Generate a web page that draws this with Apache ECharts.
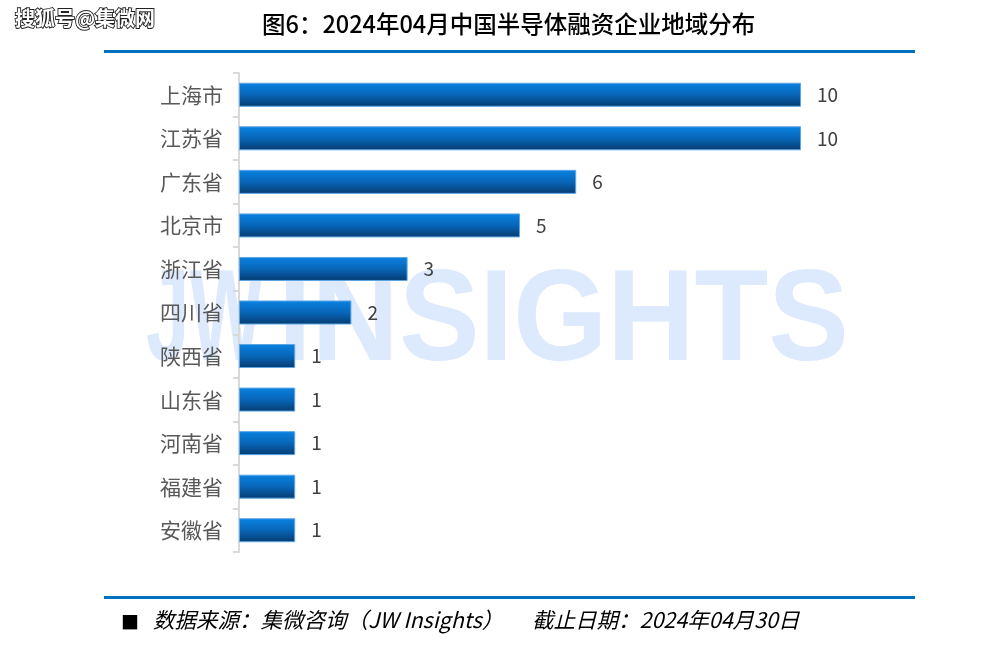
<!DOCTYPE html>
<html><head><meta charset="utf-8">
<script src="https://cdn.jsdelivr.net/npm/echarts@6/dist/echarts.min.js"></script>
<style>html,body{margin:0;padding:0;background:#fff}#c{width:1000px;height:645px}</style>
</head><body><div id="c"></div>
<script>
const categories = ['上海市','江苏省','广东省','北京市','浙江省','四川省','陕西省','山东省','河南省','福建省','安徽省'];
const values = [10,10,6,5,3,2,1,1,1,1,1];
const titleText = '图6：2024年04月中国半导体融资企业地域分布';
const sourceText = '数据来源：集微咨询（JW Insights）';
const dateText = '截止日期：2024年04月30日';
const watermarkText = '搜狐号@集微网';

const CJK = '"Noto Sans CJK SC","Noto Sans",sans-serif';
const WM = 'bold 130px "Liberation Sans",Arial,sans-serif';
const chart = echarts.init(document.getElementById('c'));
chart.setOption({
  backgroundColor:'#fff',
  animation:false,
  graphic:[
    {type:'text', z:-10, x:146, y:389, scaleX:0.6, style:{text:'JW', fill:'#dde9fc', font:WM, verticalAlign:'bottom'}},
    {type:'text', z:-10, x:278, y:389, scaleX:0.93, style:{text:'INSIGHTS', fill:'#dde9fc', font:WM, verticalAlign:'bottom'}},
    {type:'text', left:14, top:8, style:{text:watermarkText, fill:'#fff', stroke:'#222', lineWidth:1.8, font:'bold 20px '+CJK}},
    {type:'text', left:262, top:12, style:{text:titleText, fill:'#000', font:'500 23.5px '+CJK}},
    {type:'rect', shape:{x:104,y:50,width:811,height:3}, style:{fill:'#0070c0'}},
    {type:'rect', shape:{x:104,y:596,width:811,height:3}, style:{fill:'#0070c0'}},
    {type:'text', left:121, top:613, style:{text:'■', fill:'#000', font:'18px '+CJK}},
    {type:'text', left:153, top:609, style:{text:sourceText, fill:'#000', font:'italic 21.5px '+CJK}},
    {type:'text', left:532, top:609, style:{text:dateText, fill:'#000', font:'italic 21.5px '+CJK}}
  ],
  grid:{left:239, right:199, top:73, bottom:93, containLabel:false},
  xAxis:{type:'value', min:0, max:10, show:false},
  yAxis:{type:'category', data:categories, inverse:true,
    axisLine:{lineStyle:{color:'#d9d9d9', width:2}},
    axisTick:{show:true, length:6, lineStyle:{color:'#d9d9d9', width:2}},
    axisLabel:{color:'#595959', fontSize:21, fontFamily:CJK, margin:16}
  },
  series:[{
    type:'bar', data:values, barWidth:24,
    itemStyle:{
      color:new echarts.graphic.LinearGradient(0,0,0,1,[
        {offset:0,color:'#0a82e2'},{offset:0.5,color:'#0866b8'},{offset:1,color:'#063b70'}]),
      borderColor:'#5aa6e6', borderWidth:1
    },
    label:{show:true, position:'right', distance:16, color:'#404040', fontSize:19, fontFamily:CJK}
  }]
});
</script></body></html>
